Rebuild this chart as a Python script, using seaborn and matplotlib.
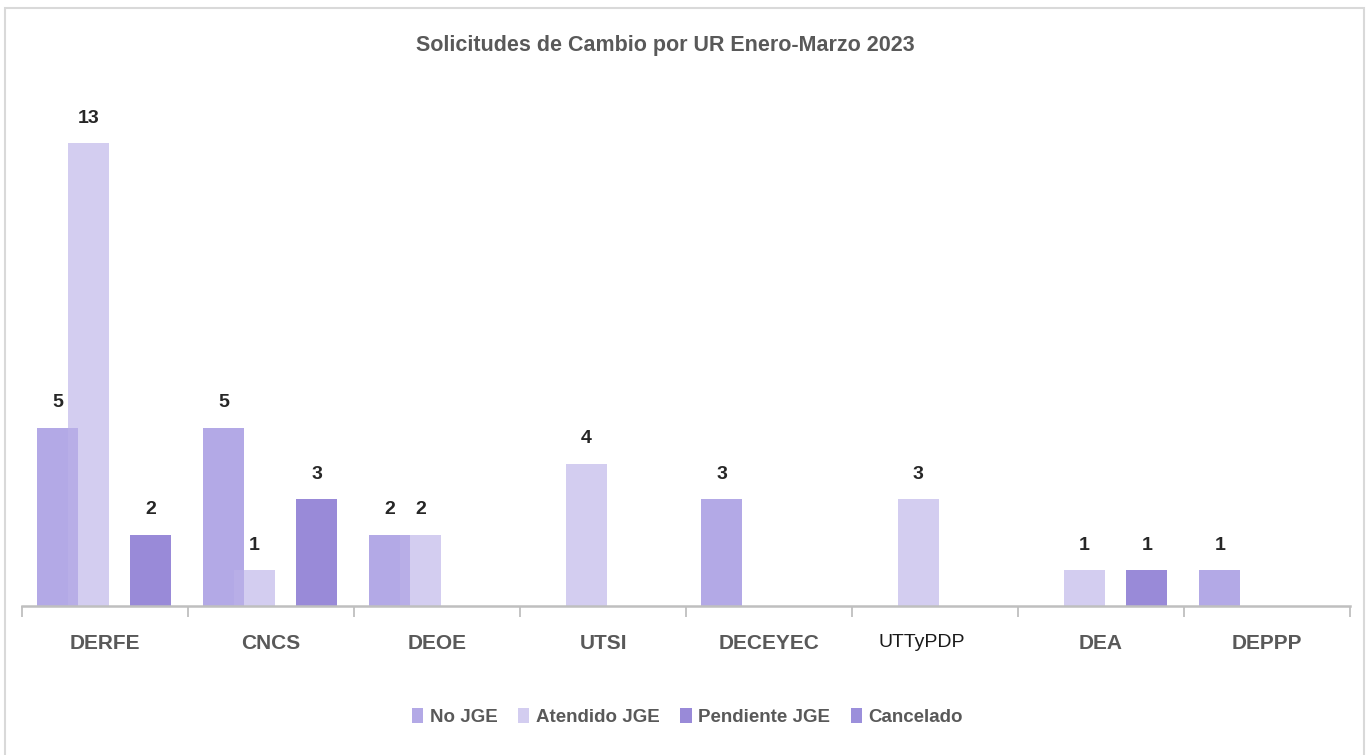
import matplotlib
matplotlib.use('Agg')
import matplotlib.pyplot as plt
import matplotlib.transforms as mtransforms
from matplotlib.patches import Patch, Rectangle
import seaborn as sns

# datos
urs = ['DERFE', 'CNCS', 'DEOE', 'UTSI', 'DECEYEC', 'UTTyPDP', 'DEA', 'DEPPP']
series = ['No JGE', 'Atendido JGE', 'Pendiente JGE', 'Cancelado']
no_jge = [5, 5, 2, 0, 3, 0, 0, 1]
atendido_jge = [13, 1, 2, 4, 0, 3, 1, 0]
pendiente_jge = [2, 3, 0, 0, 0, 0, 1, 0]
cancelado = [0, 0, 0, 0, 0, 0, 0, 0]
titulo = 'Solicitudes de Cambio por UR Enero-Marzo 2023'

# estilo
colores = ['#b3a9e6', '#bcb2e8', '#998ad8', '#9b8fdb']
alfas = [1.0, 0.65, 1.0, 1.0]
desplaz = [0.215, 0.40, 0.775, 0.90]   # centro de la barra dentro de la categoría
ancho = 0.247

sns.set_theme(style='white')
plt.rcParams['font.family'] = ['Liberation Sans', 'DejaVu Sans']

fig = plt.figure(figsize=(13.67, 7.55), dpi=100)
ax = fig.add_axes([0.0161, 0.1974, 0.9715, 0.6601])

for nombre, vals, color, alfa, dx in zip(series, [no_jge, atendido_jge, pendiente_jge, cancelado],
                                         colores, alfas, desplaz):
    x = [i + dx for i, v in enumerate(vals) if v > 0]
    y = [v for v in vals if v > 0]
    if not y:
        continue
    sns.barplot(x=x, y=y, native_scale=True, width=ancho, color=color, alpha=alfa,
                saturation=1, errorbar=None, linewidth=0, ax=ax)
    ax.bar_label(ax.containers[-1], padding=12, fontsize=14, fontweight='bold', color='#262626')

ax.set_xlim(0, len(urs))
ax.set_ylim(0, 14)
ax.set_yticks([])
ax.set_ylabel('')
ax.set_xlabel('')
for s in ['top', 'left', 'right']:
    ax.spines[s].set_visible(False)
ax.spines['bottom'].set_color('#bfbfbf')
ax.spines['bottom'].set_linewidth(1.8)

ax.set_xticks(range(len(urs) + 1))
ax.set_xticklabels([])
ax.tick_params(axis='x', which='major', length=8, width=1.3, color='#bfbfbf', bottom=True, direction='out')
ax.set_xticks([i + 0.5 for i in range(len(urs))], minor=True)
ax.set_xticklabels(urs, minor=True)
ax.tick_params(axis='x', which='minor', length=0, pad=20, bottom=True)
for t in ax.get_xticklabels(minor=True):
    if t.get_text() == 'UTTyPDP':
        t.set_fontsize(14)
        t.set_color('#1a1a1a')
        t.set_transform(t.get_transform() +
                        mtransforms.ScaledTranslation(-0.13, 0, fig.dpi_scale_trans))
    else:
        t.set_fontsize(15)
        t.set_fontweight('bold')
        t.set_color('#595959')

fig.text(0.4865, 1 - 35 / 755, titulo, ha='center', va='top', fontsize=15.5,
         fontweight='bold', color='#595959')

handles = [Patch(facecolor=c, alpha=a, edgecolor='none') for c, a in zip(colores, alfas)]
fig.legend(handles, series, loc='center', bbox_to_anchor=(0.503, 1 - 717 / 755), ncol=4,
           frameon=False, handlelength=0.6, handleheight=0.9, handletextpad=0.35,
           columnspacing=1.1, prop={'size': 13.5, 'weight': 'bold'}, labelcolor='#595959')

fig.patches.append(Rectangle((5 / 1367, -0.01), 1359 / 1367, 1 - 8 / 755 + 0.01,
                             transform=fig.transFigure, fill=False, edgecolor='#d9d9d9', lw=1.5))

fig.savefig('out.png', dpi=100)
